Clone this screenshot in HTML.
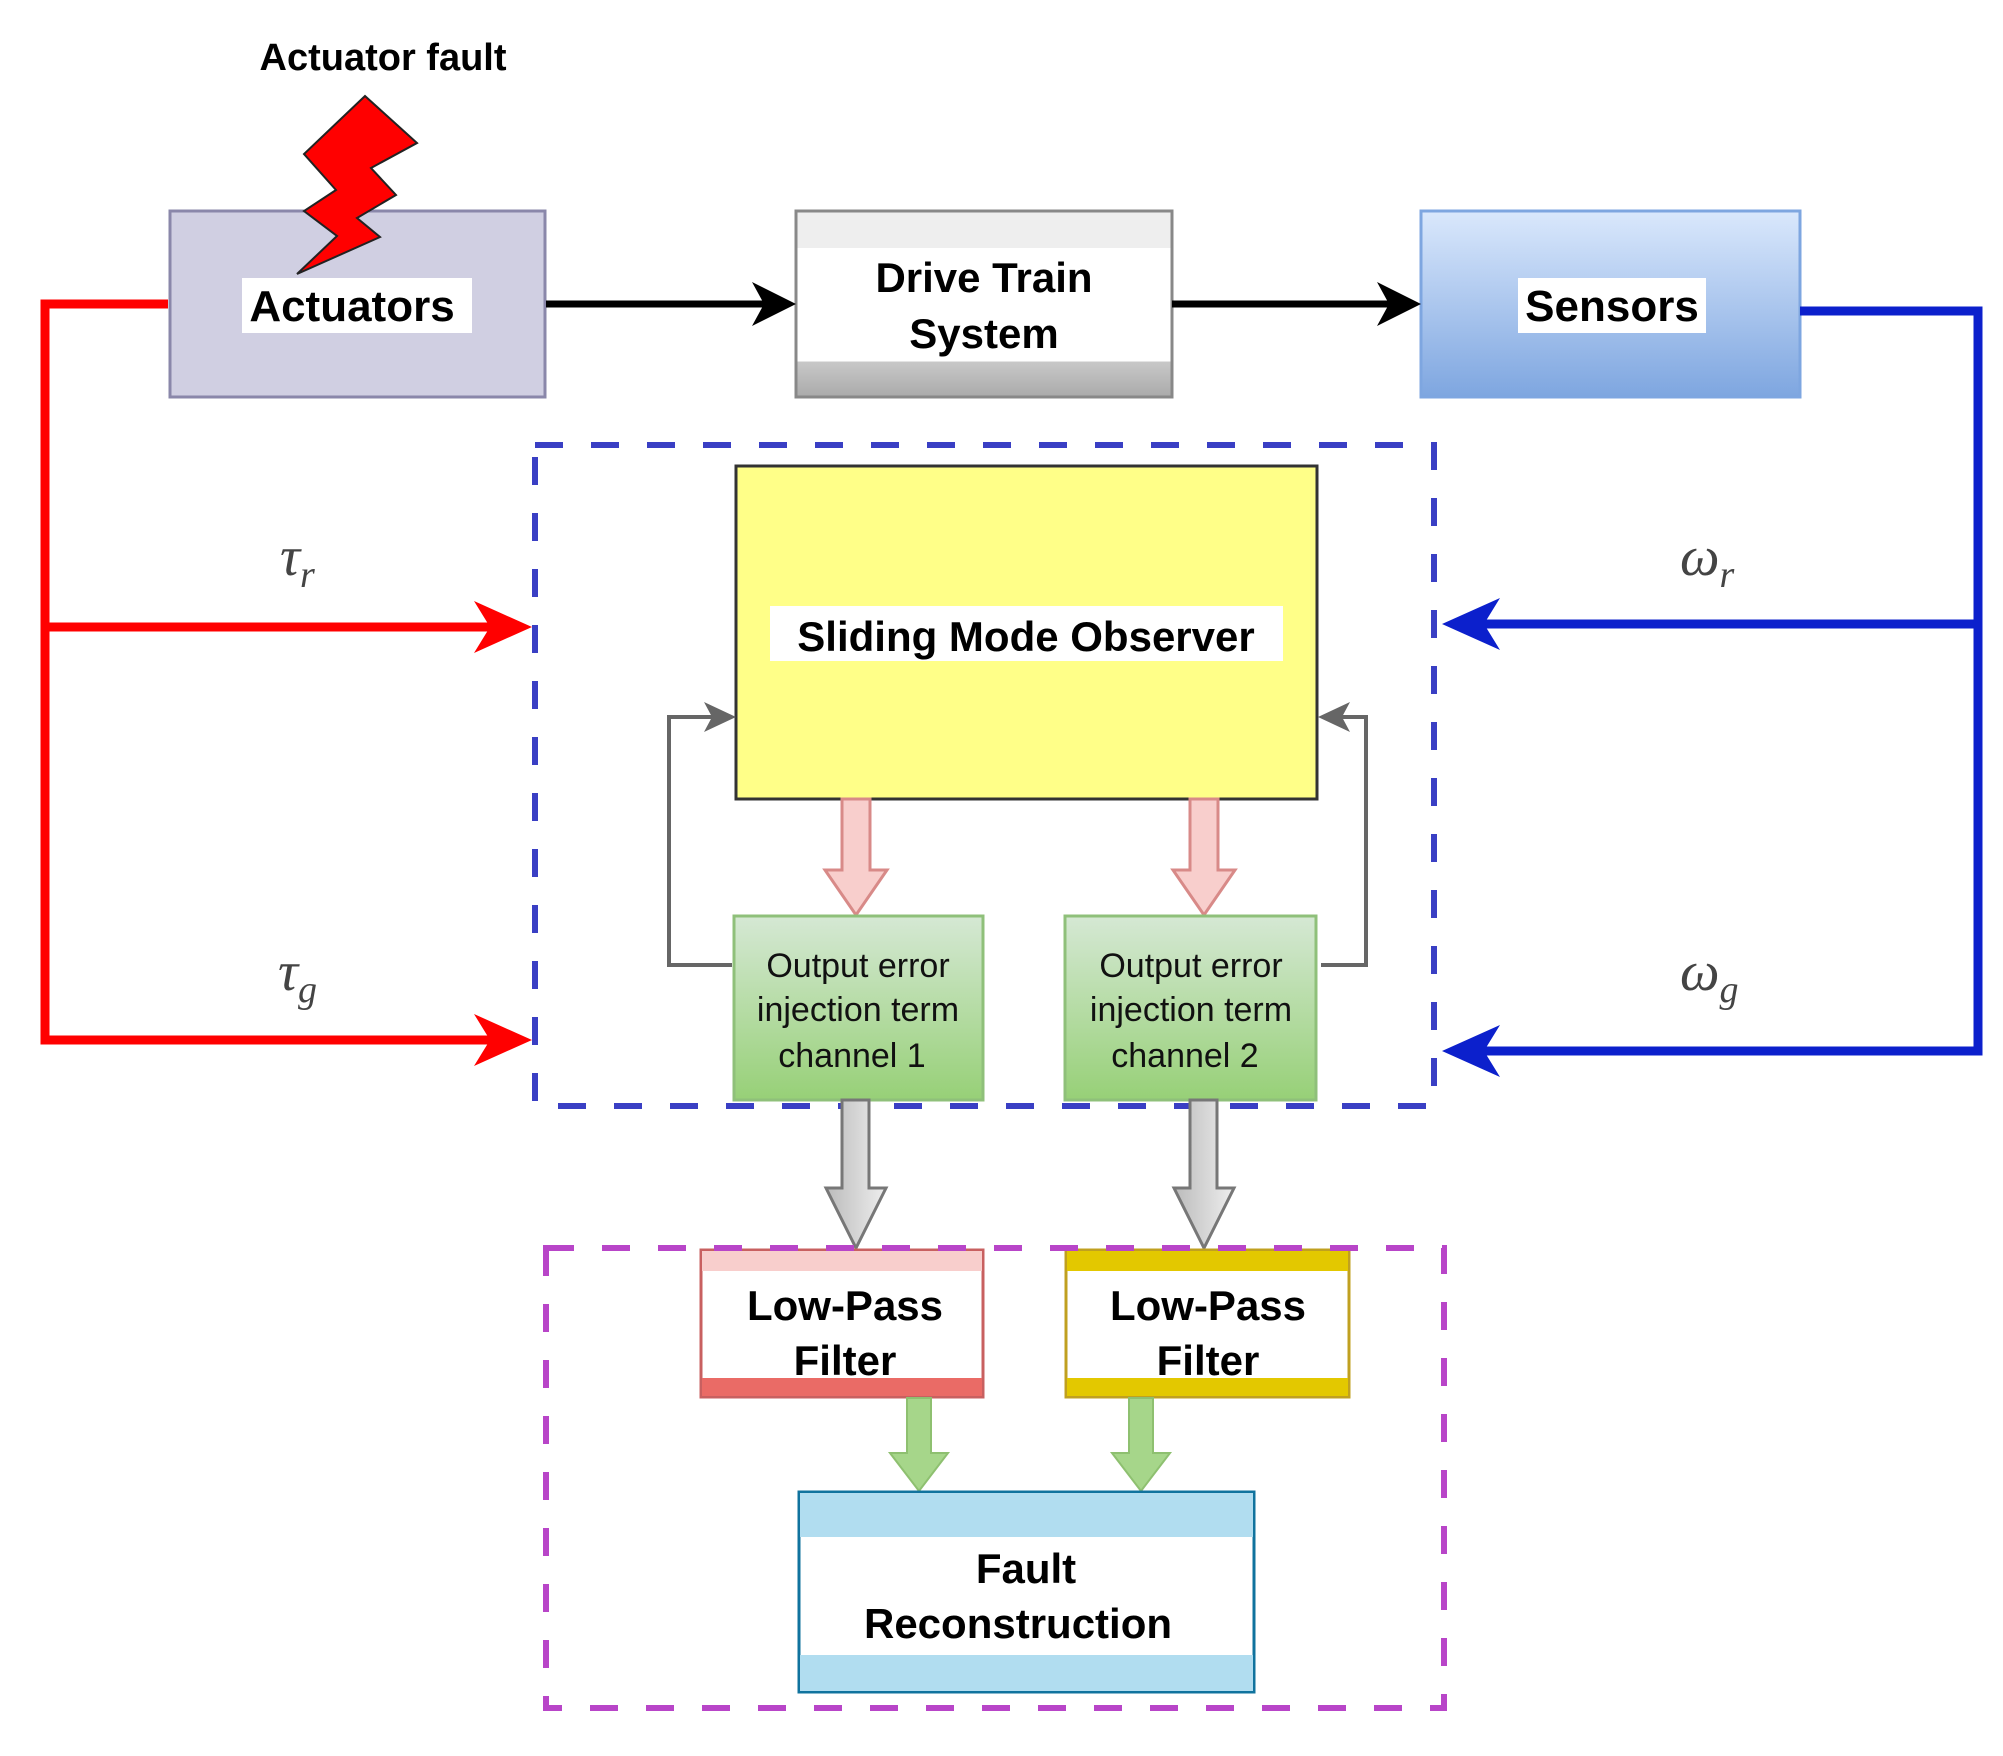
<!DOCTYPE html>
<html><head><meta charset="utf-8"><style>
html,body{margin:0;padding:0;background:#fff;}
svg{display:block;}
.b{font-family:"Liberation Sans",sans-serif;font-weight:bold;fill:#000;}
.n{font-family:"Liberation Sans",sans-serif;fill:#111;}
.m{font-family:"Liberation Serif",serif;font-style:italic;fill:#444;}
</style></head><body>
<svg width="2003" height="1756" viewBox="0 0 2003 1756" xmlns="http://www.w3.org/2000/svg">
<defs>
<linearGradient id="dt" x1="0" y1="0" x2="0" y2="1">
<stop offset="0" stop-color="#eeeeee"/><stop offset="0.2" stop-color="#eeeeee"/><stop offset="0.2" stop-color="#fff"/><stop offset="0.81" stop-color="#fff"/><stop offset="0.81" stop-color="#c8c8c8"/><stop offset="1" stop-color="#aaaaaa"/></linearGradient>
<linearGradient id="se" x1="0" y1="0" x2="0" y2="1"><stop offset="0" stop-color="#dae8fc"/><stop offset="1" stop-color="#7ea6e0"/></linearGradient>
<linearGradient id="gr" x1="0" y1="0" x2="0" y2="1"><stop offset="0" stop-color="#d5e8d4"/><stop offset="1" stop-color="#97d077"/></linearGradient>
<linearGradient id="ga" x1="0" y1="0" x2="1" y2="0"><stop offset="0" stop-color="#bbb"/><stop offset="1" stop-color="#eee"/></linearGradient>
</defs>

<text class="b" x="383" y="70" font-size="38" text-anchor="middle">Actuator fault</text>

<!-- Actuators -->
<rect x="170" y="211" width="375" height="186" fill="#d0cfe2" stroke="#8a87aa" stroke-width="3"/>
<polygon points="365,96 417,143 371,168 396,195 357,218 380,237 297,274 337,236 304,211 336,190 304,154" fill="#ff0000" stroke="#222" stroke-width="2"/>
<rect x="242" y="278" width="230" height="55" fill="#fff"/>
<text class="b" x="352" y="321" font-size="44" text-anchor="middle">Actuators</text>

<!-- Drive train -->
<rect x="796" y="211" width="376" height="186" fill="url(#dt)" stroke="#888" stroke-width="3"/>
<text class="b" x="984" y="292" font-size="42" text-anchor="middle">Drive Train</text>
<text class="b" x="984" y="348" font-size="42" text-anchor="middle">System</text>

<!-- Sensors -->
<rect x="1421" y="211" width="379" height="186" fill="url(#se)" stroke="#7ea6e0" stroke-width="3"/>
<rect x="1518" y="278" width="188" height="55" fill="#fff"/>
<text class="b" x="1612" y="321" font-size="44" text-anchor="middle">Sensors</text>

<!-- black arrows -->
<line x1="546" y1="304" x2="770" y2="304" stroke="#000" stroke-width="7"/>
<polygon points="796,304 752,282 764,304 752,326" fill="#000"/>
<line x1="1172" y1="304" x2="1395" y2="304" stroke="#000" stroke-width="7"/>
<polygon points="1421,304 1377,282 1389,304 1377,326" fill="#000"/>

<!-- red lines -->
<polyline points="168,304 45,304 45,1040 500,1040" fill="none" stroke="#ff0000" stroke-width="9"/>
<line x1="45" y1="627" x2="500" y2="627" stroke="#ff0000" stroke-width="9"/>
<polygon points="532,627 474,601 490,627 474,653" fill="#ff0000"/>
<polygon points="532,1040 474,1014 490,1040 474,1066" fill="#ff0000"/>

<!-- blue lines -->
<polyline points="1800,311 1978,311 1978,1051 1475,1051" fill="none" stroke="#0c20cc" stroke-width="9"/>
<line x1="1978" y1="624" x2="1475" y2="624" stroke="#0c20cc" stroke-width="9"/>
<polygon points="1442,624 1500,598 1484,624 1500,650" fill="#0c20cc"/>
<polygon points="1442,1051 1500,1025 1484,1051 1500,1077" fill="#0c20cc"/>

<!-- math labels -->
<text class="m" x="280" y="575" font-size="56">τ<tspan font-size="38" dy="12">r</tspan></text>
<text class="m" x="278" y="990" font-size="56">τ<tspan font-size="38" dy="12">g</tspan></text>
<text class="m" x="1680" y="575" font-size="56">ω<tspan font-size="38" dy="12">r</tspan></text>
<text class="m" x="1680" y="990" font-size="56">ω<tspan font-size="38" dy="12">g</tspan></text>

<!-- blue dashed box -->
<rect x="535" y="445" width="899" height="661" fill="none" stroke="#3a3fc4" stroke-width="6" stroke-dasharray="28 28"/>

<!-- SMO -->
<rect x="736" y="466" width="581" height="333" fill="#ffff88" stroke="#333" stroke-width="3"/>
<rect x="770" y="606" width="513" height="55" fill="#fff"/>
<text class="b" x="1026" y="651" font-size="42" text-anchor="middle">Sliding Mode Observer</text>

<!-- pink arrows -->
<polygon points="842,799 870,799 870,870 887,870 856,915 825,870 842,870" fill="#f8cecc" stroke="#d88a88" stroke-width="3"/>
<polygon points="1190,799 1218,799 1218,870 1235,870 1204,915 1173,870 1190,870" fill="#f8cecc" stroke="#d88a88" stroke-width="3"/>

<!-- feedback lines -->
<polyline points="732,965 669,965 669,717 722,717" fill="none" stroke="#666" stroke-width="4"/>
<polygon points="736,717 704,702 712,717 704,732" fill="#666"/>
<polyline points="1321,965 1366,965 1366,717 1331,717" fill="none" stroke="#666" stroke-width="4"/>
<polygon points="1318,717 1350,702 1342,717 1350,732" fill="#666"/>

<!-- green boxes -->
<rect x="734" y="916" width="249" height="184" fill="url(#gr)" stroke="#8fc07a" stroke-width="3"/>
<rect x="1065" y="916" width="251" height="184" fill="url(#gr)" stroke="#8fc07a" stroke-width="3"/>
<g class="n" font-size="34" text-anchor="middle">
<text x="858" y="977">Output error</text><text x="858" y="1021">injection term</text><text x="852" y="1067">channel 1</text>
<text x="1191" y="977">Output error</text><text x="1191" y="1021">injection term</text><text x="1185" y="1067">channel 2</text>
</g>

<!-- gray arrows -->
<polygon points="842,1100 869,1100 869,1188 886,1188 856,1248 826,1188 842,1188" fill="url(#ga)" stroke="#777" stroke-width="3"/>
<polygon points="1190,1100 1217,1100 1217,1188 1234,1188 1204,1248 1174,1188 1190,1188" fill="url(#ga)" stroke="#777" stroke-width="3"/>

<!-- LPF boxes -->
<rect x="701" y="1250" width="282" height="147" fill="#fff" stroke="#c86060" stroke-width="3"/>
<rect x="702" y="1251" width="280" height="20" fill="#f8cecc"/>
<rect x="702" y="1378" width="280" height="18" fill="#ea6b66"/>
<rect x="1066" y="1250" width="283" height="147" fill="#fff" stroke="#c0a020" stroke-width="3"/>
<rect x="1067" y="1251" width="281" height="20" fill="#e3c800"/>
<rect x="1067" y="1378" width="281" height="18" fill="#e3c800"/>
<g class="b" font-size="42" text-anchor="middle">
<text x="845" y="1320">Low-Pass</text><text x="845" y="1375">Filter</text>
<text x="1208" y="1320">Low-Pass</text><text x="1208" y="1375">Filter</text>
</g>

<!-- magenta dashed box -->
<rect x="546" y="1248" width="898" height="460" fill="none" stroke="#b845c8" stroke-width="6" stroke-dasharray="28 28"/>

<!-- green arrows -->
<polygon points="907,1398 931,1398 931,1453 948,1453 919,1491 890,1453 907,1453" fill="#a6d68a" stroke="#8ec070" stroke-width="2"/>
<polygon points="1129,1398 1153,1398 1153,1453 1170,1453 1141,1491 1112,1453 1129,1453" fill="#a6d68a" stroke="#8ec070" stroke-width="2"/>

<!-- Fault Reconstruction -->
<rect x="799" y="1492" width="455" height="200" fill="#fff" stroke="#10739e" stroke-width="3"/>
<rect x="800" y="1493" width="453" height="44" fill="#b1ddf0"/>
<rect x="800" y="1655" width="453" height="36" fill="#b1ddf0"/>
<g class="b" font-size="42" text-anchor="middle">
<text x="1026" y="1583">Fault</text><text x="1018" y="1638">Reconstruction</text>
</g>
</svg>
</body></html>
